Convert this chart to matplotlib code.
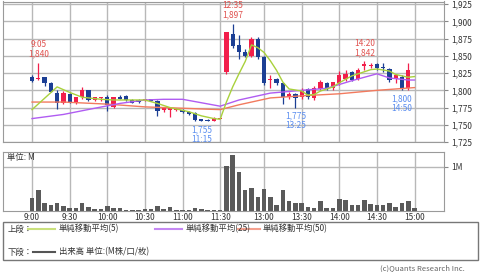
import numpy as np
import matplotlib
matplotlib.use("Agg")
import matplotlib.pyplot as plt
from matplotlib.lines import Line2D
from matplotlib.patches import Rectangle

plt.rcParams['font.family'] = ['Noto Sans CJK JP', 'DejaVu Sans']

# 5-minute bars: 9:00-11:30 then 12:30-15:00
times = ['9:00', '9:05', '9:10', '9:15', '9:20', '9:25', '9:30', '9:35', '9:40', '9:45',
         '9:50', '9:55', '10:00', '10:05', '10:10', '10:15', '10:20', '10:25', '10:30', '10:35',
         '10:40', '10:45', '10:50', '10:55', '11:00', '11:05', '11:10', '11:15', '11:20', '11:25',
         '11:30', '12:30', '12:35', '12:40', '12:45', '12:50', '12:55', '13:00', '13:05', '13:10',
         '13:15', '13:20', '13:25', '13:30', '13:35', '13:40', '13:45', '13:50', '13:55', '14:00',
         '14:05', '14:10', '14:15', '14:20', '14:25', '14:30', '14:35', '14:40', '14:45', '14:50',
         '14:55', '15:00']
opens = [1820, 1816, 1819, 1811, 1796, 1782, 1795, 1782, 1790, 1800,
         1786, 1789, 1791, 1776, 1791, 1792, 1786, 1786, 1786, 1787,
         1784, 1772, 1772, 1772, 1772, 1769, 1767, 1758, 1757, 1756,
         1758, 1826, 1882, 1866, 1856, 1850, 1875, 1848, 1815, 1817,
         1810, 1790, 1795, 1791, 1802, 1789, 1802, 1810, 1803, 1810,
         1817, 1826, 1816, 1836, 1835, 1838, 1834, 1831, 1816, 1820,
         1803, 1839]
highs = [1822, 1840, 1820, 1812, 1800, 1799, 1796, 1791, 1805, 1801,
         1791, 1791, 1793, 1791, 1793, 1793, 1788, 1787, 1788, 1788,
         1786, 1775, 1775, 1774, 1773, 1770, 1768, 1759, 1758, 1761,
         1758, 1885, 1897, 1880, 1860, 1877, 1877, 1850, 1822, 1818,
         1811, 1797, 1796, 1803, 1804, 1806, 1815, 1812, 1812, 1828,
         1830, 1828, 1832, 1842, 1840, 1840, 1840, 1833, 1822, 1822,
         1839, 1839]
lows = [1812, 1815, 1806, 1797, 1773, 1780, 1781, 1780, 1788, 1785,
        1784, 1785, 1770, 1775, 1788, 1785, 1781, 1782, 1785, 1784,
        1763, 1769, 1762, 1770, 1767, 1764, 1756, 1755, 1756, 1755,
        1758, 1824, 1862, 1846, 1848, 1848, 1846, 1808, 1804, 1808,
        1780, 1788, 1775, 1788, 1788, 1786, 1800, 1800, 1801, 1808,
        1814, 1813, 1815, 1830, 1832, 1830, 1826, 1812, 1810, 1800,
        1801, 1839]
closes = [1814, 1818, 1811, 1798, 1782, 1796, 1782, 1790, 1800, 1786,
          1790, 1790, 1779, 1790, 1788, 1786, 1782, 1783, 1787, 1785,
          1770, 1774, 1774, 1773, 1768, 1765, 1757, 1756, 1756, 1760,
          1758, 1884, 1865, 1855, 1850, 1875, 1848, 1810, 1817, 1810,
          1790, 1795, 1789, 1800, 1790, 1803, 1812, 1802, 1812, 1822,
          1824, 1815, 1830, 1838, 1837, 1832, 1833, 1815, 1822, 1803,
          1829, 1839]
volume = [0.28, 0.48, 0.17, 0.14, 0.18, 0.11, 0.06, 0.06, 0.17, 0.09,
          0.04, 0.03, 0.11, 0.06, 0.05, 0.015, 0.015, 0.01, 0.03, 0.03,
          0.11, 0.03, 0.08, 0.015, 0.02, 0.02, 0.05, 0.04, 0.02, 0.02,
          0.01, 1.02, 1.27, 0.87, 0.48, 0.52, 0.32, 0.50, 0.32, 0.12,
          0.46, 0.23, 0.17, 0.17, 0.09, 0.05, 0.21, 0.06, 0.05, 0.27,
          0.25, 0.12, 0.12, 0.25, 0.15, 0.13, 0.13, 0.17, 0.08, 0.17,
          0.22, 0.06]

# moving averages (bar index, price)
sma5_idx = [0, 4, 6, 8, 11, 13, 16, 18, 20, 22, 25, 27, 29, 30,
            31, 32, 33, 34, 35, 36, 37, 38, 39, 40, 41, 43, 44, 45, 46, 48, 49,
            51, 53, 54, 55, 57, 58, 60, 61]
sma5_val = [1772, 1805, 1797, 1790, 1787, 1786, 1786, 1786, 1781, 1775, 1769, 1763, 1759, 1758,
            1783, 1805, 1824, 1842, 1866, 1862, 1855, 1843, 1829, 1812, 1802, 1799, 1793, 1794, 1799, 1805, 1811,
            1821, 1827, 1830, 1831, 1828, 1823, 1819, 1820]
sma25_idx = [0, 5, 10, 14, 18, 21, 24, 27, 30, 33, 35, 38, 43, 47, 51, 55, 57, 60, 61]
sma25_val = [1759, 1765, 1774, 1781, 1786, 1787, 1787, 1782, 1777, 1786, 1790, 1796, 1800, 1803,
             1814, 1824, 1818, 1815, 1815]
sma50_idx = [0, 5, 12, 18, 24, 30, 33, 38, 43, 49, 55, 61]
sma50_val = [1783, 1783, 1780, 1776, 1774, 1772, 1779, 1789, 1792, 1795, 1800, 1804]

tick_idx = [0, 6, 12, 18, 24, 30, 37, 43, 49, 55, 61]
tick_lab = ['9:00', '9:30', '10:00', '10:30', '11:00', '11:30', '13:00', '13:30', '14:00', '14:30', '15:00']
price_ticks = [1725, 1750, 1775, 1800, 1825, 1850, 1875, 1900, 1925]

W, H = 480, 272
RED = '#f21f4b'
BLUE = '#1c3f94'
GRID = '#b8b8b8'

fig = plt.figure(figsize=(4.8, 2.72), dpi=100)

def px_axes(x0, y0, x1, y1):
    return fig.add_axes([x0 / W, 1 - y1 / H, (x1 - x0) / W, (y1 - y0) / H])

x = np.arange(len(times))
o = np.array(opens); c = np.array(closes); hi = np.array(highs); lo = np.array(lows)
up = c >= o
cols = np.where(up, RED, BLUE)
xl = (-4.63, 65.7)

# ---- price panel
ax = px_axes(3, 1.5, 444, 142)
ax.set_xlim(*xl)
ax.set_ylim(1725, 1929)
for t in tick_idx:
    ax.axvline(t, color=GRID, lw=1, zorder=0)
for p in price_ticks:
    ax.axhline(p, color=GRID, lw=1, zorder=0)
ax.vlines(x, lo, hi, colors=cols, lw=0.9, zorder=2)
body_h = np.maximum(np.abs(c - o), 1.3)
ax.bar(x, body_h, bottom=np.minimum(o, c), width=0.68, color=cols, lw=0, zorder=3)
ax.plot(sma50_idx, sma50_val, color='#f27a5e', lw=1, zorder=4)
ax.plot(sma25_idx, sma25_val, color='#b05cf2', lw=1, zorder=4)
ax.plot(sma5_idx, sma5_val, color='#a9d13c', lw=1, zorder=5)

ax.set_xticks([])
ax.yaxis.tick_right()
ax.set_yticks(price_ticks)
ax.set_yticklabels([f'{p:,}' for p in price_ticks])
ax.tick_params(axis='y', length=3, width=0.8, color='#888888', labelsize=6, labelcolor='#333333', pad=2)
for s in ax.spines.values():
    s.set_color('#9a9a9a')

# high / low annotations
rtxt = '#e0524f'
btxt = '#5b8ef0'
def hl_label(i, val, above, color, dy):
    if above:
        s = f'{times[i]}\n{val:,}'
        ax.annotate(s, (i, val), xytext=(0, dy), textcoords='offset points', ha='center', va='bottom',
                    fontsize=6, color=color, linespacing=1.05)
    else:
        s = f'{val:,}\n{times[i]}'
        ax.annotate(s, (i, val), xytext=(0, -dy), textcoords='offset points', ha='center', va='top',
                    fontsize=6, color=color, linespacing=1.05)

hl_label(1, 1840, True, rtxt, 3)
hl_label(32, 1897, True, rtxt, 3)
hl_label(53, 1842, True, rtxt, 3)
hl_label(27, 1755, False, btxt, 3)
hl_label(42, 1775, False, btxt, 3)
hl_label(59, 1800, False, btxt, 3)

# ---- volume panel
av = px_axes(3, 151.7, 444, 210.7)
av.set_xlim(*xl)
av.set_ylim(0, 1.34)
for t in tick_idx:
    av.axvline(t, color=GRID, lw=1, zorder=0)
av.axhline(1.0, color=GRID, lw=1, zorder=0)
av.bar(x, volume, width=0.72, color='#5a5a5a', lw=0, zorder=2)
av.set_xticks(tick_idx)
av.set_xticklabels(tick_lab)
av.tick_params(axis='x', length=0, labelsize=6, labelcolor='#333333', pad=2)
av.yaxis.tick_right()
av.set_yticks([1.0])
av.set_yticklabels(['1M'])
av.tick_params(axis='y', length=3, width=0.8, color='#888888', labelsize=6, labelcolor='#333333', pad=2)
for s in av.spines.values():
    s.set_color('#9a9a9a')
av.text(0.01, 0.9, '単位: M', transform=av.transAxes, fontsize=6, color='#333333', va='center', ha='left')

# ---- legend box
fig.patches.append(Rectangle((3 / W, 1 - 260 / H), 475 / W, 38.5 / H, transform=fig.transFigure,
                             fill=False, edgecolor='#777777', lw=1))

def fx(v):
    return v / W

def fy(v):
    return 1 - v / H

lg = dict(fontsize=6, color='#333333', va='center')
fig.text(fx(8), fy(229), '上段：', **lg)
fig.lines.append(Line2D([fx(28), fx(55)], [fy(228.5)] * 2, color='#c9e07c', lw=1.5, transform=fig.transFigure))
fig.text(fx(59), fy(229), '単純移動平均(5)', **lg)
fig.lines.append(Line2D([fx(155), fx(182)], [fy(228.5)] * 2, color='#c487f2', lw=1.5, transform=fig.transFigure))
fig.text(fx(186), fy(229), '単純移動平均(25)', **lg)
fig.lines.append(Line2D([fx(238), fx(260)], [fy(228.5)] * 2, color='#f4a08e', lw=1.5, transform=fig.transFigure))
fig.text(fx(263), fy(229), '単純移動平均(50)', **lg)
fig.text(fx(8), fy(252), '下段：', **lg)
fig.lines.append(Line2D([fx(33), fx(55)], [fy(252)] * 2, color='#555555', lw=1.5, transform=fig.transFigure))
fig.text(fx(59), fy(252), '出来高 単位:(M株/口/枚)', **lg)

fig.text(fx(465), fy(268), '(c)Quants Research Inc.', fontsize=5.5, color='#666666', ha='right', va='center')

fig.savefig('out.png', dpi=100)
